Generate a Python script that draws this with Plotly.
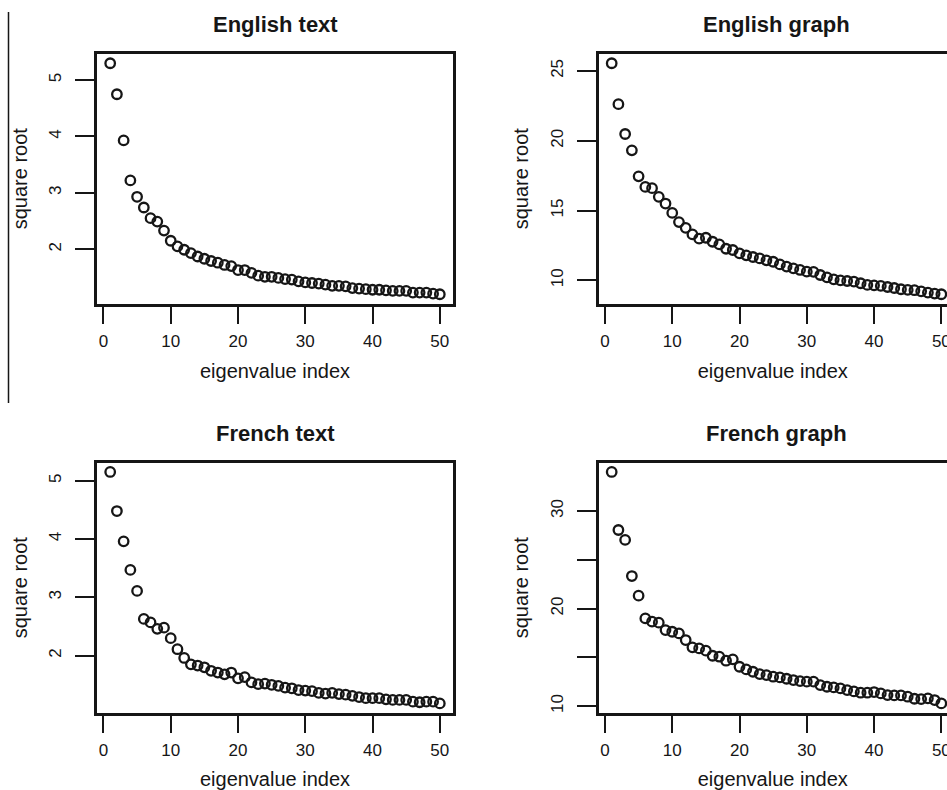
import plotly.graph_objects as go

idx = list(range(1, 51))

english_text = [5.30, 4.75, 3.93, 3.22, 2.93, 2.74, 2.55, 2.49, 2.33, 2.15,
                2.05, 1.99, 1.93, 1.87, 1.83, 1.79, 1.76, 1.72, 1.70, 1.63,
                1.63, 1.58, 1.53, 1.51, 1.51, 1.49, 1.47, 1.46, 1.43, 1.41,
                1.40, 1.39, 1.37, 1.35, 1.35, 1.34, 1.31, 1.30, 1.29, 1.28,
                1.28, 1.27, 1.26, 1.26, 1.26, 1.23, 1.23, 1.23, 1.21, 1.20]

english_graph = [25.55, 22.62, 20.48, 19.31, 17.45, 16.69, 16.60, 15.98, 15.50, 14.83,
                 14.17, 13.76, 13.29, 12.98, 13.05, 12.76, 12.57, 12.26, 12.17, 11.93,
                 11.79, 11.67, 11.57, 11.43, 11.33, 11.14, 10.98, 10.86, 10.74, 10.62,
                 10.60, 10.38, 10.21, 10.07, 10.00, 9.95, 9.90, 9.79, 9.67, 9.64,
                 9.60, 9.52, 9.45, 9.36, 9.31, 9.29, 9.21, 9.12, 9.05, 9.00]

french_text = [5.15, 4.48, 3.96, 3.47, 3.11, 2.63, 2.57, 2.46, 2.48, 2.30,
               2.11, 1.96, 1.85, 1.83, 1.80, 1.74, 1.71, 1.68, 1.71, 1.61,
               1.63, 1.54, 1.51, 1.52, 1.50, 1.48, 1.45, 1.44, 1.41, 1.40,
               1.39, 1.36, 1.35, 1.36, 1.34, 1.33, 1.31, 1.29, 1.27, 1.27,
               1.27, 1.25, 1.24, 1.24, 1.24, 1.21, 1.20, 1.21, 1.21, 1.18]

french_graph = [34.00, 28.05, 27.03, 23.33, 21.32, 18.99, 18.65, 18.55, 17.79, 17.62,
                17.45, 16.77, 16.02, 15.91, 15.68, 15.16, 15.06, 14.65, 14.79, 14.03,
                13.76, 13.52, 13.28, 13.18, 13.01, 12.94, 12.80, 12.67, 12.56, 12.50,
                12.50, 12.15, 11.98, 11.91, 11.81, 11.64, 11.50, 11.37, 11.37, 11.44,
                11.30, 11.13, 11.09, 11.09, 10.96, 10.75, 10.72, 10.79, 10.62, 10.27]

titles = ["English text", "English graph", "French text", "French graph"]
x_ticks = [0, 10, 20, 30, 40, 50]
y_ticks = [[2, 3, 4, 5], [10, 15, 20, 25], [2, 3, 4, 5], [10, 15, 20, 25, 30]]
y_ticktext = [["2", "3", "4", "5"], ["10", "15", "20", "25"],
              ["2", "3", "4", "5"], ["10", "", "20", "", "30"]]
series = [english_text, english_graph, french_text, french_graph]

W, H = 947, 790
FONT = "Liberation Sans, Arial, Helvetica, sans-serif"
INK = "#161616"

# pixel boxes (left, top, right, bottom)
boxes = [(97, 54, 453, 303.5), (598.5, 54, 947, 303.5),
         (97, 462.7, 453, 712.7), (598.5, 462.7, 947, 712.7)]
xranges = [[-0.96, 51.96], [-0.96, 50.84], [-0.96, 51.96], [-0.96, 50.84]]

fig = go.Figure()
layout = dict(width=W, height=H, margin=dict(l=0, r=0, t=0, b=0),
              paper_bgcolor="white", plot_bgcolor="white", showlegend=False,
              font=dict(family=FONT, color=INK))
annotations = []

for i in range(4):
    n = "" if i == 0 else str(i + 1)
    L, T, R, B = boxes[i]
    vals = series[i]
    lo, hi = min(vals), max(vals)
    pad = 0.04 * (hi - lo)
    fig.add_trace(go.Scatter(
        x=idx, y=vals, mode="markers", xaxis="x" + n, yaxis="y" + n,
        marker=dict(symbol="circle-open", size=9.5, color=INK,
                    line=dict(width=2.3, color=INK)),
        cliponaxis=False))
    right_clipped = R >= W
    layout["xaxis" + n] = dict(
        domain=[L / W, min(R / W, 1.0)], range=xranges[i], anchor="y" + n,
        tickvals=x_ticks, ticktext=[str(v) for v in x_ticks],
        ticks="outside", ticklen=18, tickwidth=2.2, tickcolor=INK,
        showline=True, linewidth=2.5, linecolor=INK, mirror=True,
        showgrid=False, zeroline=False, automargin=False,
        ticklabeloverflow="allow",
        tickfont=dict(size=17, family=FONT, color=INK), ticklabelstandoff=2,
        title=dict(text="eigenvalue index", font=dict(size=20, family=FONT, color=INK),
                   standoff=15))
    layout["yaxis" + n] = dict(
        domain=[1 - B / H, 1 - T / H], range=[lo - pad, hi + pad], anchor="x" + n,
        tickvals=y_ticks[i], ticktext=y_ticktext[i], tickangle=-90,
        ticks="outside", ticklen=19, tickwidth=2.2, tickcolor=INK,
        showline=True, linewidth=2.5, linecolor=INK,
        mirror=(not right_clipped),
        showgrid=False, zeroline=False, automargin=False,
        ticklabeloverflow="allow",
        tickfont=dict(size=17, family=FONT, color=INK), ticklabelstandoff=7,
        title=dict(text="square root", font=dict(size=20, family=FONT, color=INK),
                   standoff=14))
    annotations.append(dict(
        text="<b>" + titles[i] + "</b>", xref="paper", yref="paper",
        x=((L + (953.9 if right_clipped else R)) / 2) / W, y=1 - (T - 29) / H,
        xanchor="center", yanchor="middle", showarrow=False,
        font=dict(size=22, family=FONT, color=INK)))

layout["annotations"] = annotations
layout["shapes"] = [dict(type="line", xref="paper", yref="paper",
                         x0=8.5 / W, x1=8.5 / W, y0=1 - 12 / H, y1=1 - 403 / H,
                         line=dict(color=INK, width=1.5))]
fig.update_layout(**layout)
fig.write_html("out.html", config={"displayModeBar": False},
               post_script="document.body.style.margin='0';document.body.style.overflow='hidden';")
